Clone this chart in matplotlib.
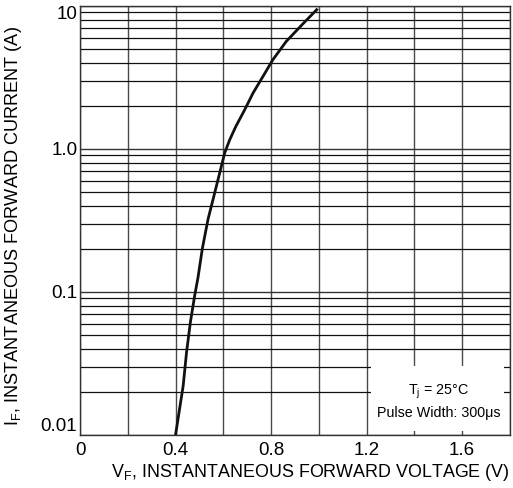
import matplotlib
matplotlib.use('Agg')
import matplotlib.pyplot as plt
from matplotlib.patches import Rectangle
from matplotlib.ticker import FixedLocator, LogLocator, NullFormatter

plt.rcParams['font.family'] = ['Liberation Sans', 'DejaVu Sans']

# forward characteristic
vf = [0.40, 0.432, 0.446, 0.462, 0.480, 0.494, 0.512, 0.536, 0.557, 0.585,
      0.606, 0.627, 0.652, 0.689, 0.724, 0.766, 0.807, 0.863, 0.933, 0.991]
i_f = [0.01, 0.0221, 0.0378, 0.0612, 0.094, 0.126, 0.2, 0.322, 0.443, 0.681,
       0.94, 1.16, 1.43, 1.87, 2.45, 3.21, 4.19, 5.63, 7.48, 9.4]

x_ticks = [0, 0.4, 0.8, 1.2, 1.6]
x_tick_labels = ['0', '0.4', '0.8', '1.2', '1.6']
y_ticks = [0.01, 0.1, 1.0, 10]
y_tick_labels = ['0.01', '0.1', '1.0', '10']

fig = plt.figure(figsize=(5.13, 4.88), dpi=100)
ax = fig.add_axes([0.156, 0.109, 0.838, 0.879])

ax.set_yscale('log')
ax.set_xlim(0, 1.8)
ax.set_ylim(0.01, 10)

ax.set_xticks(x_ticks)
ax.set_xticklabels(x_tick_labels, fontsize=13.5)
ax.xaxis.set_minor_locator(FixedLocator([0.2 * k for k in range(10)]))
ax.set_yticks(y_ticks)
ax.set_yticklabels(y_tick_labels, fontsize=13.5)
ax.yaxis.set_minor_locator(LogLocator(base=10, subs=range(2, 10)))
ax.yaxis.set_minor_formatter(NullFormatter())
ax.tick_params(which='both', length=0)
ax.tick_params(axis='x', pad=5)
ax.tick_params(axis='y', pad=2)

# end labels sit inside the axis range, like the datasheet
ylabs = ax.get_yticklabels()
ylabs[0].set_va('bottom')
ylabs[-1].set_va('top')

ax.grid(True, which='both', axis='x', color='#4a4a4a', linewidth=1.0)
ax.grid(True, which='major', axis='y', color='#333333', linewidth=1.0)
ax.grid(True, which='minor', axis='y', color='#111111', linewidth=0.9)
for s in ax.spines.values():
    s.set_color('#333333')
    s.set_linewidth(1.0)

ax.plot(vf, i_f, color='#111111', linewidth=2.0, zorder=4)

# white box for the test conditions
ax.add_patch(Rectangle((0.677, 0.01), 0.31, 0.15, transform=ax.transAxes,
                       facecolor='white', edgecolor='none', zorder=3))
ax.text(0.835, 0.099, 'T$_\\mathregular{j}$ = 25°C', transform=ax.transAxes,
        ha='center', va='center', fontsize=10.3, zorder=5)
ax.text(0.835, 0.051, 'Pulse Width: 300μs', transform=ax.transAxes,
        ha='center', va='center', fontsize=10.3, zorder=5)

ax.set_xlabel('V$_\\mathregular{F}$, INSTANTANEOUS FORWARD VOLTAGE (V)',
              fontsize=12.9)
ax.set_ylabel('I$_\\mathregular{F}$, INSTANTANEOUS FORWARD CURRENT (A)',
              fontsize=13.1)
ax.xaxis.set_label_coords(0.535, -0.064)
ax.yaxis.set_label_coords(-0.13, 0.486)

fig.savefig('out.png', dpi=100)
